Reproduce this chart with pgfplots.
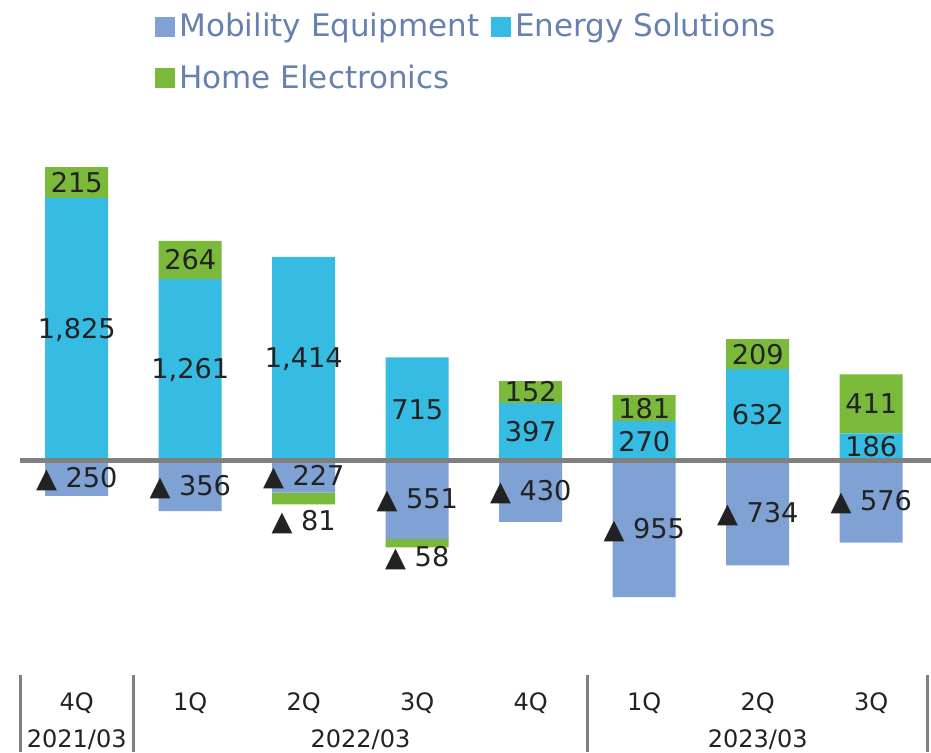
\documentclass[border=0pt]{standalone}
\usepackage{fontspec}
\setmainfont{DejaVu Sans}
\usepackage{pgfplots}
\pgfplotsset{compat=1.18}
\definecolor{mob}{RGB}{127,161,211}
\definecolor{ene}{RGB}{54,188,226}
\definecolor{home}{RGB}{122,185,58}
\definecolor{legtext}{RGB}{102,128,176}
\definecolor{zl}{RGB}{128,128,128}
\definecolor{lbl}{RGB}{34,34,34}
\pgfplotsset{
  /pgf/number format/assume math mode=true,
  base/.style={
    at={(0,0)}, anchor=south west,
    scale only axis, width=454pt, height=376pt,
    xmin=-0.5, xmax=7.5, ymin=-2033, ymax=3203,
    hide axis, clip=false,
  },
  sq/.style={legend image code/.code={\fill[##1] (0pt,-5pt) rectangle (10pt,5pt);}},
  lab/.style={only marks, mark=none, nodes near coords, point meta=explicit,
    every node near coord/.append style={anchor=center, text=lbl,
      font=\fontsize{13.6}{16}\selectfont}},
}
\begin{document}
\begin{tikzpicture}
\path[use as bounding box] (-10pt,0) rectangle (455.5pt,376pt);
% positive stack
\begin{axis}[base, ybar stacked, bar width=31.5pt]
\addplot[fill=ene, draw=none] coordinates {(0,1825) (1,1261) (2,1414) (3,715) (4,397) (5,270) (6,632) (7,186)};
\addplot[fill=home, draw=none] coordinates {(0,215) (1,264) (2,0) (3,0) (4,152) (5,181) (6,209) (7,411)};
\end{axis}
% negative stack + legend
\begin{axis}[base, ybar stacked, bar width=31.5pt,
  legend columns=2, legend cell align=left,
  legend style={at={(0.1487,0.988)}, anchor=north west, draw=none, fill=none,
    inner sep=0pt, row sep=8.5pt,
    font=\fontsize{15.5}{18}\selectfont\color{legtext},
    /tikz/every even column/.append style={column sep=4pt}}]
\addplot[fill=mob, draw=none, sq] coordinates {(0,-250) (1,-356) (2,-227) (3,-551) (4,-430) (5,-955) (6,-734) (7,-576)};
\addlegendentry{Mobility Equipment}
\addlegendimage{fill=ene, draw=none, sq}
\addlegendentry{Energy Solutions}
\addplot[fill=home, draw=none, sq] coordinates {(0,0) (1,0) (2,-81) (3,-58) (4,0) (5,0) (6,0) (7,0)};
\addlegendentry{Home Electronics}
\end{axis}
% labels, zero line, categories
\begin{axis}[base]
\draw[zl, line width=2.5pt] (axis cs:-0.5,0) -- (axis cs:7.55,0);
\foreach \xx in {-0.5,0.5,4.5,7.5} {
  \edef\tmp{\noexpand\draw[zl, line width=1.5pt] (axis cs:\xx,-1497) -- (axis cs:\xx,-2033);}\tmp
}
% Energy labels
\addplot[lab] table[meta=v] {
x y v
0 905 1825
1 625 1261
2 705 1414
3 352 715
4 198 397
5 130 270
6 316 632
7 93 186
};
% Home positive labels
\addplot[lab] table[meta=v] {
x y v
0 1932 215
1 1393 264
4 473 152
5 360 181
6 736 209
7 391 411
};
% Mobility labels
\addplot[lab, nodes near coords={▲ \pgfmathprintnumber{\pgfplotspointmeta}}] table[meta=v] {
x y v
0 -135 250
1 -190 356
2 -118 227
3 -280 551
4 -225 430
5 -485 955
6 -375 734
7 -290 576
};
% Home negative labels
\addplot[lab, nodes near coords={▲ \pgfmathprintnumber{\pgfplotspointmeta}}] table[meta=v] {
x y v
2 -432 81
3 -682 58
};
% category labels
\addplot[only marks, mark=none, nodes near coords, point meta=explicit symbolic,
  every node near coord/.append style={anchor=center, text=lbl, font=\fontsize{12}{14}\selectfont}]
  table[meta=t] {
x y t
0 -1692 4Q
1 -1692 1Q
2 -1692 2Q
3 -1692 3Q
4 -1692 4Q
5 -1692 1Q
6 -1692 2Q
7 -1692 3Q
0 -1944 2021/03
2.5 -1944 2022/03
6 -1944 2023/03
};
\end{axis}
\end{tikzpicture}
\end{document}
